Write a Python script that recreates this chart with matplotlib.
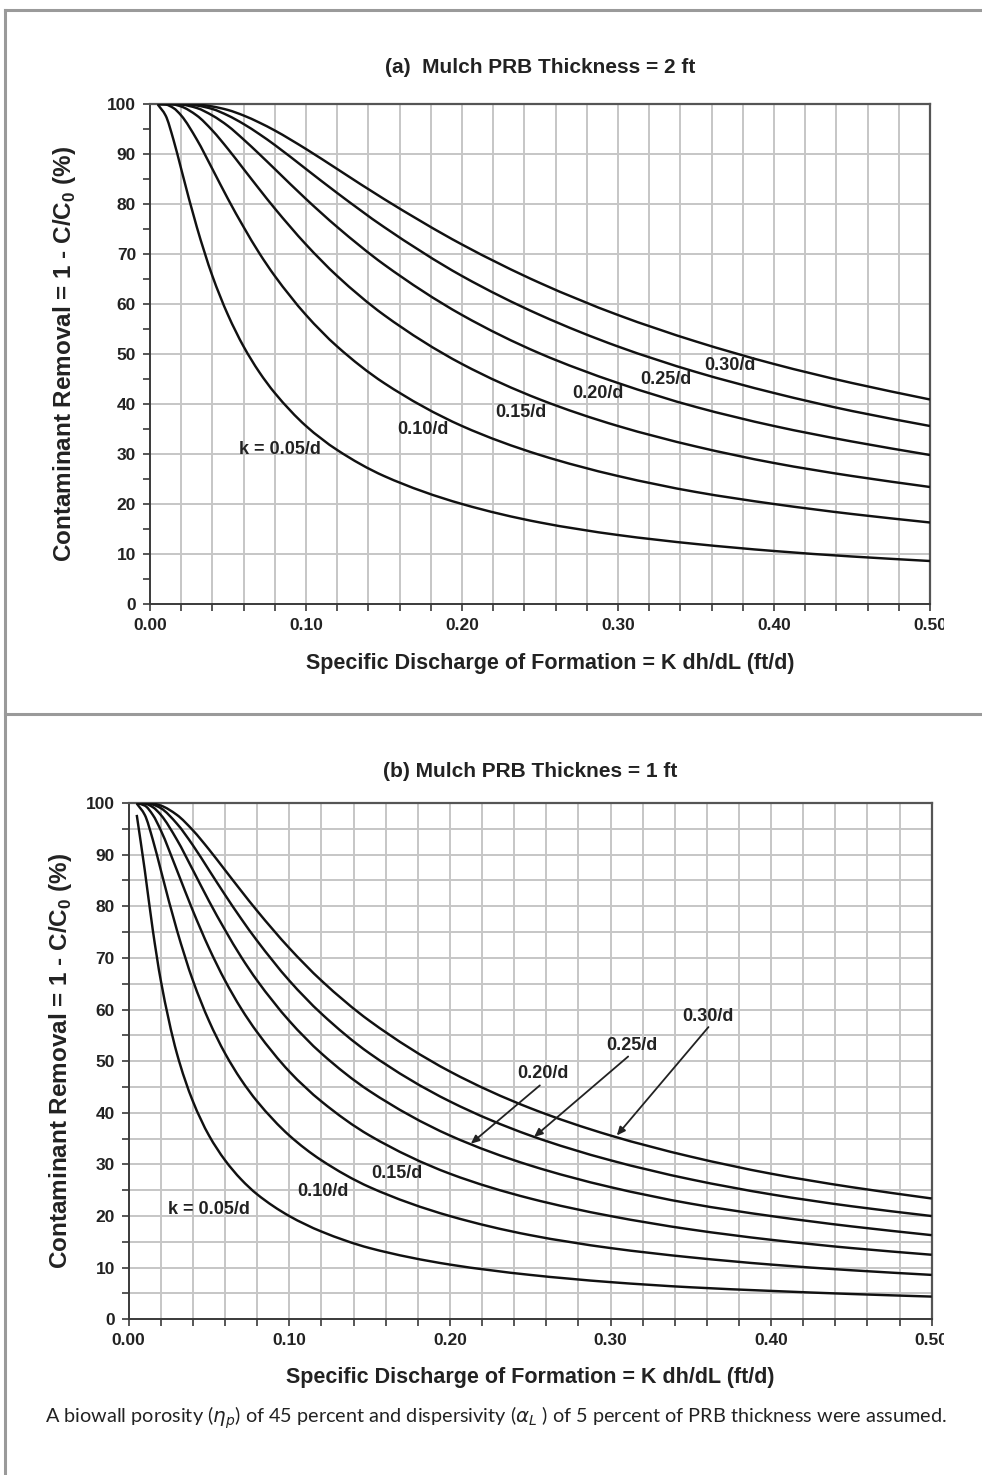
import matplotlib
matplotlib.use("Agg")
import numpy as np
import matplotlib.pyplot as plt
from matplotlib.lines import Line2D
from matplotlib.path import Path
from matplotlib.patches import PathPatch
from matplotlib.transforms import Bbox, TransformedBbox
from matplotlib.ticker import MultipleLocator, FixedLocator

# ---------------- data ----------------
q = [0.005, 0.01, 0.015, 0.02, 0.03, 0.04, 0.05, 0.06, 0.07, 0.08,
     0.10, 0.12, 0.15, 0.20, 0.25, 0.30, 0.35, 0.40, 0.45, 0.50]

# (a) 2 ft thickness
a_k005 = [99.9, 97.7, 92.9, 87.0, 75.4, 65.6, 57.8, 51.5, 46.4, 42.2, 35.6, 30.8, 25.6, 20.0, 16.3, 13.8, 12.0, 10.6, 9.5, 8.6]
a_k010 = [100.0, 99.9, 99.2, 97.7, 92.9, 87.0, 81.0, 75.4, 70.2, 65.6, 57.8, 51.5, 44.2, 35.6, 29.8, 25.6, 22.4, 20.0, 18.0, 16.3]
a_k015 = [100.0, 100.0, 99.9, 99.5, 97.7, 94.7, 91.0, 87.0, 83.0, 79.1, 71.9, 65.6, 57.8, 48.0, 40.9, 35.6, 31.5, 28.2, 25.6, 23.4]
a_k020 = [100.0, 100.0, 100.0, 99.9, 99.2, 97.7, 95.6, 92.9, 90.0, 87.0, 81.0, 75.4, 67.9, 57.8, 50.1, 44.2, 39.4, 35.6, 32.5, 29.8]
a_k025 = [100.0, 100.0, 100.0, 100.0, 99.7, 99.0, 97.7, 96.0, 94.0, 91.8, 87.0, 82.2, 75.4, 65.6, 57.8, 51.5, 46.4, 42.2, 38.6, 35.6]
a_k030 = [100.0, 100.0, 100.0, 100.0, 99.9, 99.5, 98.8, 97.7, 96.3, 94.7, 91.0, 87.0, 81.0, 71.9, 64.2, 57.8, 52.5, 48.0, 44.2, 40.9]

# (b) 1 ft thickness
b_k005 = [97.7, 87.0, 75.4, 65.6, 51.5, 42.2, 35.6, 30.8, 27.1, 24.2, 20.0, 17.0, 13.8, 10.6, 8.6, 7.2, 6.2, 5.5, 4.9, 4.4]
b_k010 = [99.9, 97.7, 92.9, 87.0, 75.4, 65.6, 57.8, 51.5, 46.4, 42.2, 35.6, 30.8, 25.6, 20.0, 16.3, 13.8, 12.0, 10.6, 9.5, 8.6]
b_k015 = [100.0, 99.5, 97.7, 94.7, 87.0, 79.1, 71.9, 65.6, 60.2, 55.6, 48.0, 42.2, 35.6, 28.2, 23.4, 20.0, 17.4, 15.4, 13.8, 12.5]
b_k020 = [100.0, 99.9, 99.2, 97.7, 92.9, 87.0, 81.0, 75.4, 70.2, 65.6, 57.8, 51.5, 44.2, 35.6, 29.8, 25.6, 22.4, 20.0, 18.0, 16.3]
b_k025 = [100.0, 100.0, 99.7, 99.0, 96.0, 91.8, 87.0, 82.2, 77.6, 73.3, 65.6, 59.2, 51.5, 42.2, 35.6, 30.8, 27.1, 24.2, 21.9, 20.0]
b_k030 = [100.0, 100.0, 99.9, 99.5, 97.7, 94.7, 91.0, 87.0, 83.0, 79.1, 71.9, 65.6, 57.8, 48.0, 40.9, 35.6, 31.5, 28.2, 25.6, 23.4]

x_ticks = [0.0, 0.1, 0.2, 0.3, 0.4, 0.5]
x_ticklabels = ["0.00", "0.10", "0.20", "0.30", "0.40", "0.50"]
y_ticks = [0, 10, 20, 30, 40, 50, 60, 70, 80, 90, 100]

a_labels = ["k = 0.05/d", "0.10/d", "0.15/d", "0.20/d", "0.25/d", "0.30/d"]
a_label_xy = [(0.083, 31.0), (0.175, 35.0), (0.238, 38.3), (0.287, 42.0), (0.331, 44.9), (0.372, 47.8)]
b_labels = ["k = 0.05/d", "0.10/d", "0.15/d", "0.20/d", "0.25/d", "0.30/d"]
b_label_xy = [(0.050, 21.3), (0.121, 24.7), (0.167, 28.2), (0.258, 47.6), (0.313, 53.0), (0.3605, 58.7)]
# arrows for 0.20, 0.25, 0.30 in panel (b): (tail, head)
b_arrows = [((0.256, 45.3), (0.213, 34.0)),
            ((0.311, 50.9), (0.2524, 35.3)),
            ((0.361, 56.6), (0.3039, 35.6))]

title_a = "(a)  Mulch PRB Thickness = 2 ft"
title_b = "(b) Mulch PRB Thicknes = 1 ft"
xlabel = "Specific Discharge of Formation = K dh/dL (ft/d)"
ylabel = "Contaminant Removal = 1 - C/C$_\\mathregular{0}$ (%)"
caption = "A biowall porosity ($\\eta_p$) of 45 percent and dispersivity ($\\alpha_L$ ) of 5 percent of PRB thickness were assumed."

# ---------------- figure ----------------
W, H = 982, 1475
DPI = 100
fig = plt.figure(figsize=(W / DPI, H / DPI), dpi=DPI)
fig.patch.set_facecolor("white")

FONT = "Liberation Sans"
GRID = "#c6c6c6"
SPINE = "#3a3a3a"
TXT = "#222222"


def px_axes(x0, y_top, x1, y_bot):
    return fig.add_axes([x0 / W, 1 - y_bot / H, (x1 - x0) / W, (y_bot - y_top) / H])


def smooth_curve(ax, xs, ys, **kw):
    """Draw a smooth (monotone cubic Bezier) line through the data points."""
    x = np.asarray(xs, float)
    y = np.asarray(ys, float)
    n = len(x)
    h = np.diff(x)
    d = np.diff(y) / h
    m = np.zeros(n)
    for i in range(1, n - 1):
        if d[i - 1] * d[i] <= 0:
            m[i] = 0.0
        else:
            w1 = 2 * h[i] + h[i - 1]
            w2 = h[i] + 2 * h[i - 1]
            m[i] = (w1 + w2) / (w1 / d[i - 1] + w2 / d[i])
    m[0] = d[0]
    m[-1] = d[-1]
    verts = [(x[0], y[0])]
    codes = [Path.MOVETO]
    for i in range(n - 1):
        hh = h[i] / 3.0
        verts += [(x[i] + hh, y[i] + m[i] * hh),
                  (x[i + 1] - hh, y[i + 1] - m[i + 1] * hh),
                  (x[i + 1], y[i + 1])]
        codes += [Path.CURVE4] * 3
    ax.add_patch(PathPatch(Path(verts, codes), fill=False, **kw))


def style(ax, hgrid_step, x0px, y_bot_px, ax_wpx, ax_hpx, ylab_xpx, xlab_xpx, xlab_ypx):
    ax.set_xlim(0, 0.5)
    ax.set_ylim(0, 100)
    ax.xaxis.set_major_locator(FixedLocator(x_ticks))
    ax.xaxis.set_minor_locator(MultipleLocator(0.02))
    ax.yaxis.set_major_locator(FixedLocator(y_ticks))
    ax.yaxis.set_minor_locator(MultipleLocator(5))
    ax.set_xticklabels(x_ticklabels)
    for t in ax.get_xticklabels() + ax.get_yticklabels():
        t.set_fontfamily(FONT)
        t.set_fontweight("bold")
        t.set_fontsize(12.5)
        t.set_color(TXT)
    ax.tick_params(which="both", direction="out", color=SPINE, width=1.2)
    ax.tick_params(which="major", length=5, pad=5)
    ax.tick_params(which="minor", length=5)
    for xv in [i * 0.02 for i in range(1, 25)]:
        ax.axvline(xv, color=GRID, lw=1.4, zorder=1)
    yv = hgrid_step
    while yv < 100:
        ax.axhline(yv, color=GRID, lw=1.4, zorder=1)
        yv += hgrid_step
    for s in ["left", "bottom"]:
        ax.spines[s].set_color(SPINE)
        ax.spines[s].set_linewidth(1.4)
    for s in ["top", "right"]:
        ax.spines[s].set_color("#555555")
        ax.spines[s].set_linewidth(1.6)
    ax.set_xlabel(xlabel, fontfamily=FONT, fontweight="bold", fontsize=15.5, color=TXT)
    ax.xaxis.label.set_va("center")
    ax.xaxis.set_label_coords((xlab_xpx - x0px) / ax_wpx, (y_bot_px - xlab_ypx) / ax_hpx)
    ax.set_ylabel(ylabel, fontfamily=FONT, fontweight="bold", fontsize=17.5, color=TXT)
    ax.yaxis.label.set_va("center")
    ax.yaxis.set_label_coords((ylab_xpx - x0px) / ax_wpx, 0.5)
    # the right-most tick label is cut by the chart edge in the original
    clip = TransformedBbox(Bbox([[0, 0], [944 / W, 1]]), fig.transFigure)
    last = ax.xaxis.get_major_ticks()[-1].label1
    last.set_clip_box(clip)
    last.set_clip_on(True)


LINE_KW = dict(edgecolor="#111111", lw=1.75, zorder=3)
LAB_KW = dict(ha="center", va="center", fontfamily=FONT, fontweight="bold", fontsize=13, color=TXT, zorder=4)

# panel (a)
axa = px_axes(150, 104, 930, 604)
style(axa, 10, 150, 604, 780, 500, 64, 550, 664)
for ys in [a_k005, a_k010, a_k015, a_k020, a_k025, a_k030]:
    smooth_curve(axa, q, ys, **LINE_KW)
for lab, (lx, ly) in zip(a_labels, a_label_xy):
    axa.text(lx, ly, lab, **LAB_KW)
axa.set_title(title_a, fontfamily=FONT, fontweight="bold", fontsize=15, pad=22, color=TXT)

# panel (b)
axb = px_axes(128.7, 803, 931.7, 1319.3)
style(axb, 5, 128.7, 1319.3, 803, 516.3, 61, 530, 1377)
for ys in [b_k005, b_k010, b_k015, b_k020, b_k025, b_k030]:
    smooth_curve(axb, q, ys, **LINE_KW)
for lab, (lx, ly) in zip(b_labels, b_label_xy):
    axb.text(lx, ly, lab, **LAB_KW)
for (tail, head) in b_arrows:
    axb.annotate("", xy=head, xytext=tail,
                 arrowprops=dict(arrowstyle="-|>,head_length=0.5,head_width=0.22",
                                 color=TXT, lw=1.3, shrinkA=0, shrinkB=0), zorder=4)
axb.set_title(title_b, fontfamily=FONT, fontweight="bold", fontsize=15, pad=19, color=TXT)

# frame lines
frame_c = "#9a9a9a"
fig.add_artist(Line2D([4.5 / W, 1.0], [1 - 10 / H, 1 - 10 / H], color=frame_c, lw=2.2, transform=fig.transFigure))
fig.add_artist(Line2D([4.5 / W, 4.5 / W], [1 - 10 / H, 0.0], color=frame_c, lw=2.2, transform=fig.transFigure))
fig.add_artist(Line2D([4.5 / W, 1.0], [1 - 714 / H, 1 - 714 / H], color=frame_c, lw=2.2, transform=fig.transFigure))

# caption
fig.text(45 / W, 1 - 1418 / H, caption, ha="left", va="center", fontfamily="Lato", fontsize=14.3, color=TXT)

fig.savefig("out.png", dpi=DPI, facecolor="white")
